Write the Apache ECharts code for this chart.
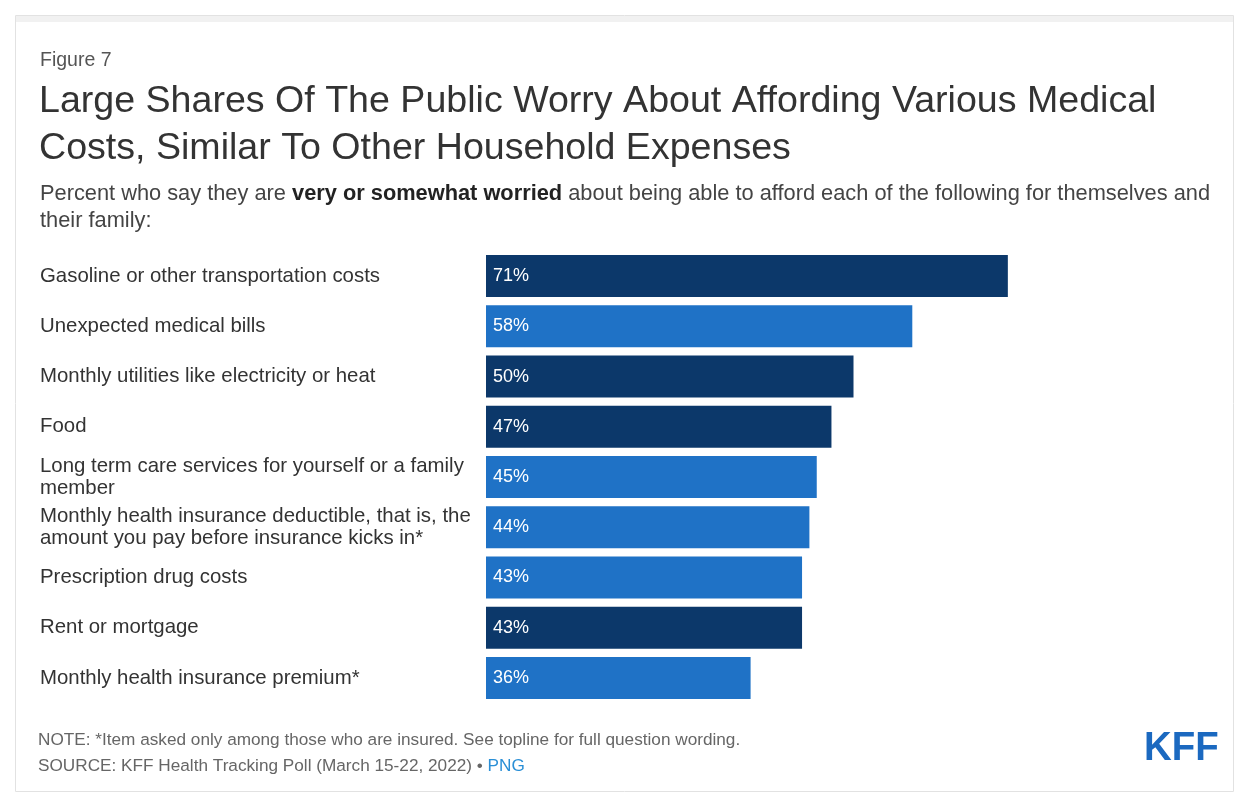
<!DOCTYPE html>
<html>
<head>
<meta charset="utf-8">
<script src="https://cdn.jsdelivr.net/npm/echarts@6/dist/echarts.min.js"></script>
<style>
  html, body { margin: 0; padding: 0; background: #ffffff; }
  #chart { width: 1244px; height: 799px; }
</style>
</head>
<body>
<div id="chart"></div>
<script>
// Worry items, shares of respondents, and which group each belongs to
const categories = [
  'Gasoline or other transportation costs',
  'Unexpected medical bills',
  'Monthly utilities like electricity or heat',
  'Food',
  'Long term care services for yourself or a family\nmember',
  'Monthly health insurance deductible, that is, the\namount you pay before insurance kicks in*',
  'Prescription drug costs',
  'Rent or mortgage',
  'Monthly health insurance premium*'
];
const values = [71, 58, 50, 47, 45, 44, 43, 43, 36];
const groups = ['household', 'medical', 'household', 'household', 'medical', 'medical', 'medical', 'household', 'medical'];

const groupColors = { household: '#0c386a', medical: '#1f72c6' };
const FONT = '"Liberation Sans", Arial, sans-serif';

const chart = echarts.init(document.getElementById('chart'), null, { renderer: 'canvas' });

chart.setOption({
  backgroundColor: '#ffffff',
  animation: false,
  textStyle: { fontFamily: FONT },
  title: [
    {
      text: 'Figure 7',
      left: 35, top: 46,
      textStyle: { fontFamily: FONT, fontSize: 19.5, fontWeight: 'normal', color: '#555555' }
    },
    {
      text: 'Large Shares Of The Public Worry About Affording Various Medical\nCosts, Similar To Other Household Expenses',
      left: 34, top: 73,
      textStyle: { fontFamily: FONT, fontSize: 37.6, fontWeight: 'normal', color: '#333333', lineHeight: 47 }
    },
    {
      text: '{n|Percent who say they are }{b|very or somewhat worried}{n| about being able to afford each of the following for themselves and}\n{n|their family:}',
      left: 35, top: 175,
      textStyle: {
        fontFamily: FONT, fontSize: 21.8, fontWeight: 'normal', color: '#444444', lineHeight: 27,
        rich: {
          n: { fontFamily: FONT, fontSize: 21.8, fontWeight: 'normal', color: '#444444', lineHeight: 27 },
          b: { fontFamily: FONT, fontSize: 21.8, fontWeight: 'bold', color: '#222222', lineHeight: 27 }
        }
      }
    }
  ],
  grid: { left: 486, right: 23, top: 251, bottom: 96, containLabel: false },
  xAxis: {
    type: 'value', min: 0, max: 100,
    show: false
  },
  yAxis: {
    type: 'category',
    data: categories,
    inverse: true,
    axisLine: { show: false },
    axisTick: { show: false },
    splitLine: { show: false },
    axisLabel: {
      align: 'left',
      margin: 446,
      fontFamily: FONT,
      fontSize: 20.4,
      color: '#333333',
      lineHeight: 22
    }
  },
  series: [{
    type: 'bar',
    barWidth: 42,
    data: values.map((v, i) => ({ value: v, itemStyle: { color: groupColors[groups[i]] } })),
    label: {
      show: true,
      position: 'insideLeft',
      distance: 7,
      formatter: '{c}%',
      fontFamily: FONT,
      fontSize: 18,
      color: '#ffffff'
    }
  }],
  graphic: [
    {
      type: 'rect',
      shape: { x: 15.5, y: 15.5, width: 1218, height: 776 },
      style: { fill: 'none', stroke: '#e2e2e2', lineWidth: 1 },
      silent: true
    },
    {
      type: 'rect',
      shape: { x: 16, y: 16, width: 1217, height: 6 },
      style: { fill: '#f1f1f1' },
      silent: true
    },
    {
      type: 'text',
      left: 38, top: 732,
      style: {
        text: 'NOTE: *Item asked only among those who are insured. See topline for full question wording.',
        font: '17.2px "Liberation Sans", Arial, sans-serif',
        fill: '#666666'
      }
    },
    {
      type: 'text',
      left: 38, top: 758,
      style: {
        text: '{s|SOURCE: KFF Health Tracking Poll (March 15-22, 2022) • }{p|PNG}',
        font: '17.2px "Liberation Sans", Arial, sans-serif',
        fill: '#666666',
        rich: {
          s: { fontSize: 17.2, fontFamily: FONT, fill: '#666666' },
          p: { fontSize: 17.2, fontFamily: FONT, fill: '#2a8fd6' }
        }
      }
    },
    {
      type: 'text',
      x: 1144, y: 729,
      scaleX: 0.96,
      style: {
        text: 'KFF',
        font: 'bold 40px "Liberation Sans", Arial, sans-serif',
        fill: '#1b69c0'
      }
    }
  ]
});
</script>
</body>
</html>
